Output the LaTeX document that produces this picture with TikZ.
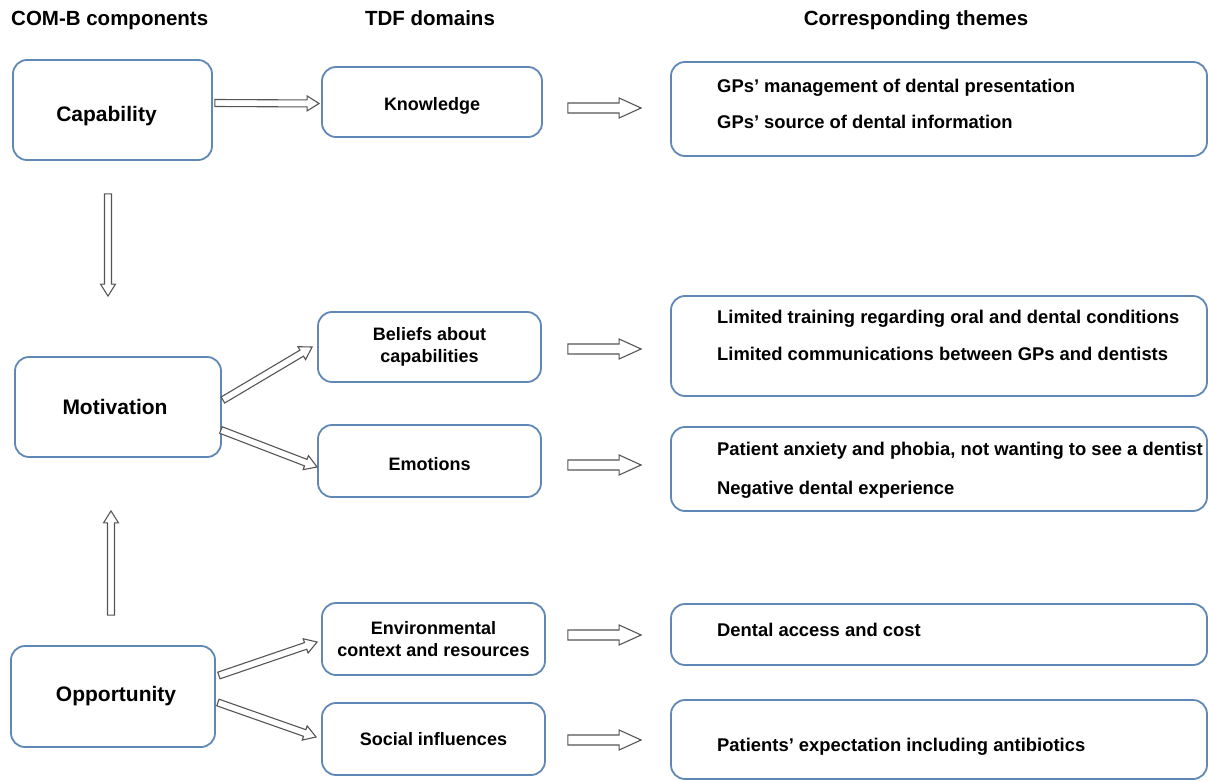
\documentclass[tikz,border=0pt]{standalone}
\usepackage{fontspec}
\setmainfont{Liberation Sans}
\usetikzlibrary{calc}
\definecolor{boxblue}{RGB}{96,136,183}
\definecolor{arrgray}{RGB}{85,85,85}
\tikzset{
  box/.style={draw=boxblue, line width=1.8pt, rounded corners=14pt, fill=white, inner sep=0pt, align=center},
  combox/.style={box, font=\fontsize{21}{24}\selectfont\bfseries},
  tdfbox/.style={box, font=\fontsize{18}{21.5}\selectfont\bfseries},
  themebox/.style={box, minimum width=536pt},
  themetext/.style={anchor=base west, inner sep=0pt, font=\fontsize{18.4}{21}\selectfont\bfseries},
  header/.style={anchor=base, inner sep=0pt, font=\fontsize{20.5}{24}\selectfont\bfseries},
  hollowto/.style={draw=arrgray, fill=white, line width=1.1pt, line join=miter,
    to path={let \p1=(\tikztostart), \p2=(\tikztotarget),
      \n1={atan2(\y2-\y1,\x2-\x1)}, \n2={veclen(\x2-\x1,\y2-\y1)} in
      ($(\p1)+({\n1+90}:\ArShaft)$)
      -- ($(\p1)+({\n1}:{\n2-\ArLen})+({\n1+90}:\ArShaft)$)
      -- ($(\p1)+({\n1}:{\n2-\ArLen})+({\n1+90}:\ArHead)$)
      -- (\p2)
      -- ($(\p1)+({\n1}:{\n2-\ArLen})+({\n1-90}:\ArHead)$)
      -- ($(\p1)+({\n1}:{\n2-\ArLen})+({\n1-90}:\ArShaft)$)
      -- ($(\p1)+({\n1-90}:\ArShaft)$) -- cycle}},
  slimarrow/.style={hollowto, /utils/exec={\def\ArShaft{3.5}\def\ArHead{7.5}\def\ArLen{12}}},
  widearrow/.style={hollowto, /utils/exec={\def\ArShaft{5}\def\ArHead{10}\def\ArLen{22}}},
}
\begin{document}
\begin{tikzpicture}[x=1pt,y=1pt]
\useasboundingbox (0,0) rectangle (1208,-781);

% headers
\node[header, anchor=base west] (h1) at (11,-26) {COM-B components};
\node[header] (h2) at (430,-26) {TDF domains};
\node[header] (h3) at (916,-26) {Corresponding themes};

% COM-B boxes
\node[combox, minimum width=199pt, minimum height=100pt] (cap) at (112.5,-110) {\rule{0pt}{27.3pt}Capability\hspace*{12pt}};
\node[combox, minimum width=206pt, minimum height=100pt] (mot) at (118,-407) {Motivation\hspace*{6pt}};
\node[combox, minimum width=204pt, minimum height=101pt] (opp) at (113,-696.5) {\hspace*{6pt}Opportunity};

% TDF boxes
\node[tdfbox, minimum width=220pt, minimum height=70pt] (kn) at (432,-102) {\rule{0pt}{21.1pt}Knowledge};
\node[tdfbox, minimum width=223pt, minimum height=70pt] (bel) at (429.5,-347) {Beliefs about\\capabilities};
\node[tdfbox, minimum width=223pt, minimum height=72pt] (emo) at (429.5,-461) {\rule{0pt}{19.1pt}Emotions};
\node[tdfbox, minimum width=223pt, minimum height=72pt] (env) at (433.5,-639) {Environmental\\context and resources};
\node[tdfbox, minimum width=223pt, minimum height=72pt] (soc) at (433.5,-739) {Social influences};

% theme boxes
\node[themebox, minimum height=94pt] (t1) at (939,-109) {};
\node[themebox, minimum height=100pt] (t2) at (939,-346) {};
\node[themebox, minimum height=84pt] (t3) at (939,-469) {};
\node[themebox, minimum height=61pt] (t4) at (939,-634.5) {};
\node[themebox, minimum height=79pt] (t5) at (939,-739.5) {};

% theme texts
\node[themetext] (t1a) at (717,-92.5) {GPs’ management of dental presentation};
\node[themetext] (t1b) at (717,-128.5) {GPs’ source of dental information};
\node[themetext] (t2a) at (717,-323.5) {Limited training regarding oral and dental conditions};
\node[themetext] (t2b) at (717,-360.5) {Limited communications between GPs and dentists};
\node[themetext] (t3a) at (717,-455.5) {Patient anxiety and phobia, not wanting to see a dentist};
\node[themetext] (t3b) at (717,-494.5) {Negative dental experience};
\node[themetext] (t4a) at (717,-636.5) {Dental access and cost};
\node[themetext] (t5a) at (717,-751.5) {Patients’ expectation including antibiotics};

% COM-B to TDF arrows
\path[slimarrow] ([xshift=2pt,yshift=7pt]cap.east) to ([xshift=-2pt,yshift=-1.5pt]kn.west);
\path[slimarrow] ([xshift=1pt,yshift=7pt]mot.east) to ([xshift=-5pt,yshift=0pt]bel.west);
\path[slimarrow] ([xshift=-1pt,yshift=-23pt]mot.east) to ([xshift=0pt,yshift=-6pt]emo.west);
\path[slimarrow] ([xshift=3pt,yshift=21pt]opp.east) to ([xshift=-4pt,yshift=-3pt]env.west);
\path[slimarrow] ([xshift=2pt,yshift=-6pt]opp.east) to ([xshift=-5pt,yshift=2pt]soc.west);

% vertical arrows
\path[slimarrow] ([xshift=-4.5pt,yshift=-33pt]cap.south) to ([xshift=-10pt,yshift=60pt]mot.north);
\path[slimarrow] ([xshift=-2pt,yshift=30pt]opp.north) to ([xshift=-7pt,yshift=-53pt]mot.south);

% TDF to theme arrows
\path[widearrow] ([xshift=25pt,yshift=-6pt]kn.east) to ([xshift=-29pt,yshift=1pt]t1.west);
\path[widearrow] ([xshift=26pt,yshift=-2pt]bel.east) to ([xshift=-29pt,yshift=-3pt]t2.west);
\path[widearrow] ([xshift=26pt,yshift=-4pt]emo.east) to ([xshift=-29pt,yshift=4pt]t3.west);
\path[widearrow] ([xshift=22pt,yshift=4pt]env.east) to ([xshift=-29pt,yshift=-0.5pt]t4.west);
\path[widearrow] ([xshift=22pt,yshift=-1pt]soc.east) to ([xshift=-29pt,yshift=-0.5pt]t5.west);
\end{tikzpicture}
\end{document}
